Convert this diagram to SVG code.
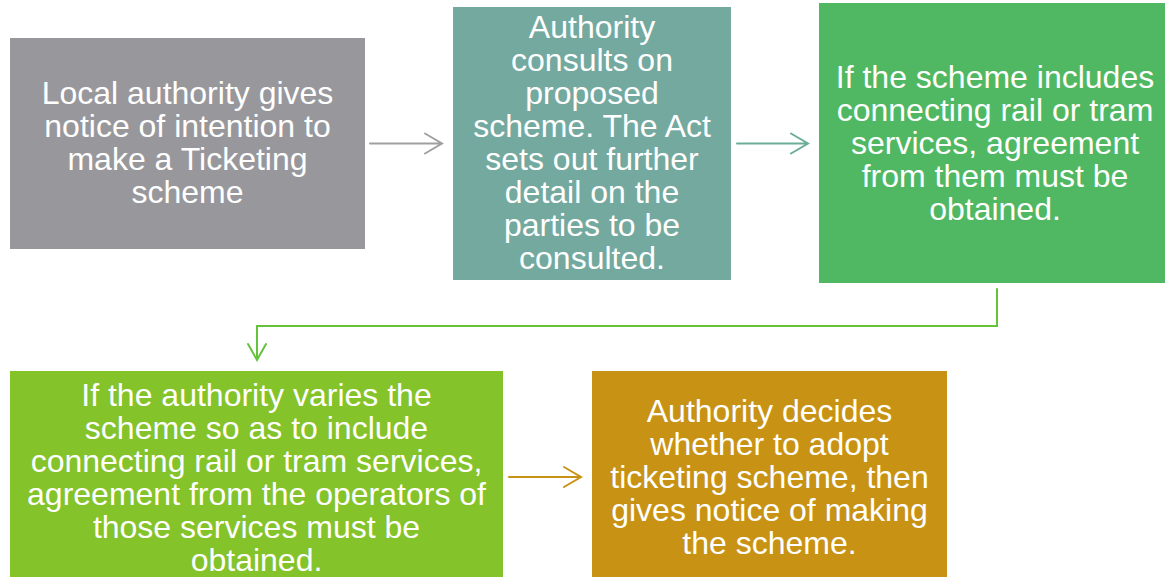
<svg xmlns="http://www.w3.org/2000/svg" width="1165" height="577" viewBox="0 0 1165 577">
<style>
text{font-family:"Liberation Sans",Arial,sans-serif;font-size:32px;fill:#ffffff;text-anchor:middle}
.ln{fill:none;stroke-width:2;stroke-linecap:round;stroke-linejoin:miter}
</style>
<rect width="1165" height="577" fill="#ffffff"/>
<g id="n1">
<rect x="10" y="38" width="355" height="211" fill="#98989c"/>
<text x="187.5" y="104">Local authority gives</text>
<text x="187.5" y="137">notice of intention to</text>
<text x="187.5" y="170">make a Ticketing</text>
<text x="187.5" y="203">scheme</text>
</g>
<g id="n2">
<rect x="453" y="7" width="278" height="273" fill="#74a9a0"/>
<text x="592" y="38">Authority</text>
<text x="592" y="71">consults on</text>
<text x="592" y="104">proposed</text>
<text x="592" y="137">scheme. The Act</text>
<text x="592" y="170">sets out further</text>
<text x="592" y="203">detail on the</text>
<text x="592" y="236">parties to be</text>
<text x="592" y="269">consulted.</text>
</g>
<g id="n3">
<rect x="819" y="3" width="346" height="280" fill="#50b862"/>
<text x="995" y="88">If the scheme includes</text>
<text x="995" y="121">connecting rail or tram</text>
<text x="995" y="154">services, agreement</text>
<text x="995" y="187">from them must be</text>
<text x="995" y="220">obtained.</text>
</g>
<g id="n4">
<rect x="10" y="371" width="493" height="206" fill="#84c32a"/>
<text x="256.5" y="406">If the authority varies the</text>
<text x="256.5" y="439">scheme so as to include</text>
<text x="256.5" y="472">connecting rail or tram services,</text>
<text x="256.5" y="505">agreement from the operators of</text>
<text x="256.5" y="538">those services must be</text>
<text x="256.5" y="571">obtained.</text>
</g>
<g id="n5">
<rect x="592" y="371" width="355" height="206" fill="#c89314"/>
<text x="769.5" y="422">Authority decides</text>
<text x="769.5" y="455">whether to adopt</text>
<text x="769.5" y="488">ticketing scheme, then</text>
<text x="769.5" y="521">gives notice of making</text>
<text x="769.5" y="554">the scheme.</text>
</g>
<g id="connectors">
<path class="ln" stroke="#a0a0a2" d="M370 143.5H442M425 133.5L442 143.5L425 153.5"/>
<path class="ln" stroke="#6cae95" d="M737 143.5H808M791 133.5L808 143.5L791 153.5"/>
<path class="ln" stroke="#66c23a" d="M997 289V326H257V359M248 344L257 360L266 344"/>
<path class="ln" stroke="#c89314" d="M509 477H581M564 467L581 477L564 487"/>
</g>
</svg>
